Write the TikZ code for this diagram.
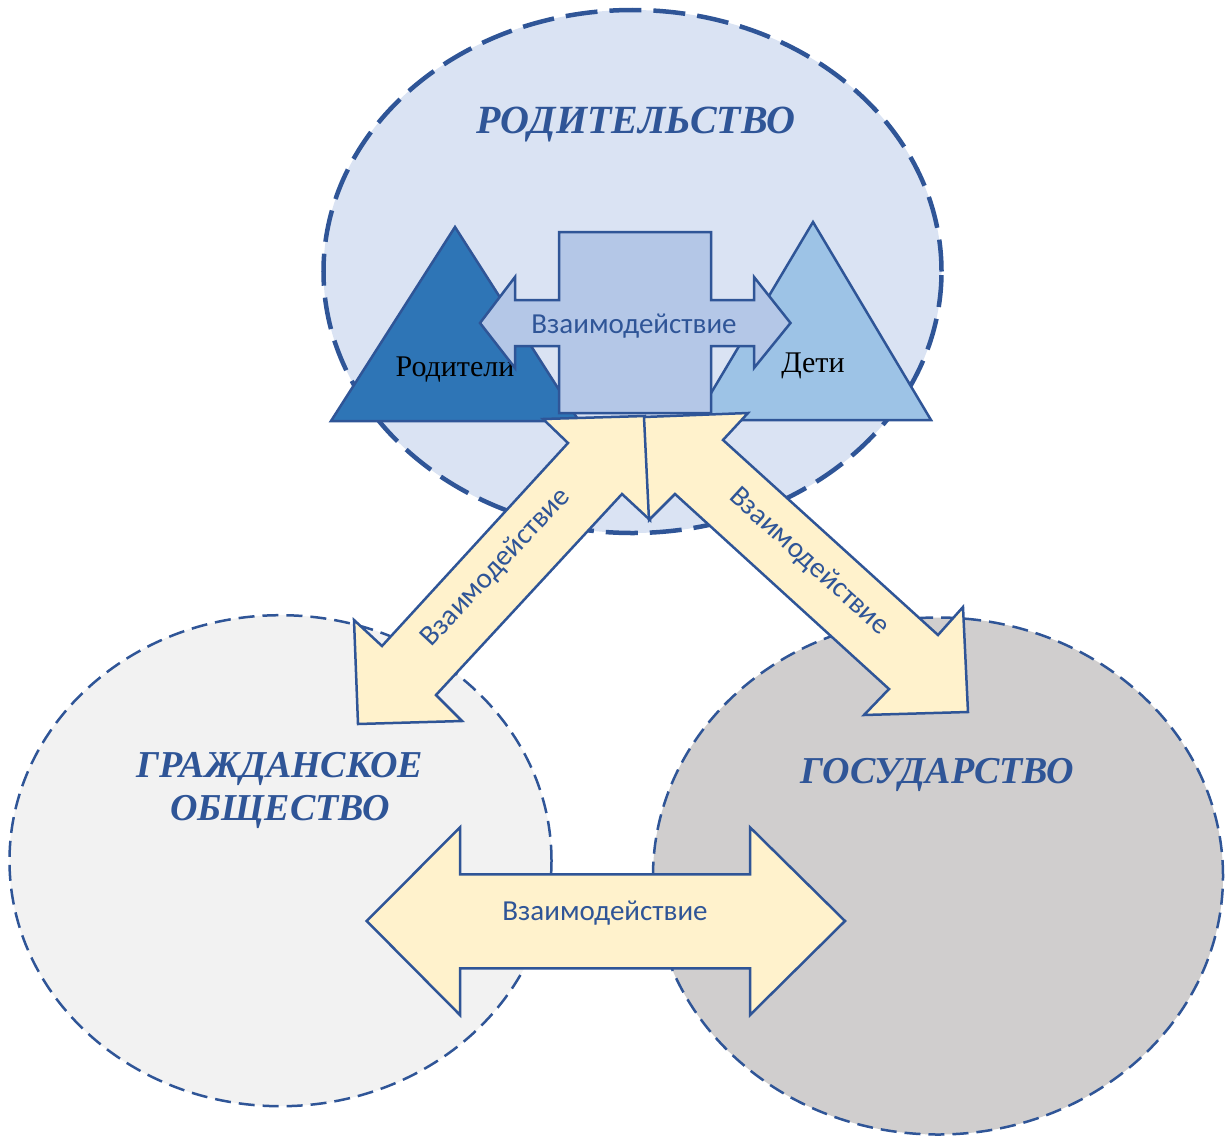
\documentclass[tikz,border=0pt]{standalone}
\usepackage{fontspec}
\setmainfont{Liberation Serif}
\newfontfamily\calib{Carlito}
\definecolor{dblue}{HTML}{2F5597}
\definecolor{topfill}{HTML}{DAE3F3}
\definecolor{blfill}{HTML}{F2F2F2}
\definecolor{brfill}{HTML}{D0CECE}
\definecolor{trione}{HTML}{2E75B6}
\definecolor{tritwo}{HTML}{9DC3E6}
\definecolor{crossfill}{HTML}{B4C7E7}
\definecolor{yel}{HTML}{FFF2CC}
\usetikzlibrary{shapes.geometric}
\tikzset{
  bigell/.style={ellipse, draw=dblue, inner sep=0pt, line width=4.5bp, dash pattern=on 32bp off 12bp},
  smallell/.style={ellipse, draw=dblue, inner sep=0pt, line width=2.5bp, dash pattern=on 16bp off 8bp},
  shapeline/.style={draw=dblue, line width=2.5bp, line join=miter},
  title/.style={text=dblue, font=\fontsize{38bp}{43bp}\selectfont\bfseries\itshape, inner sep=0pt, align=center},
  inter/.style={text=dblue, font=\calib\fontsize{29bp}{31bp}\selectfont, inner sep=0pt},
  who/.style={text=black, font=\fontsize{30bp}{34bp}\selectfont, inner sep=0pt}
}
\begin{document}
\begin{tikzpicture}[x=1bp,y=-1bp]
\useasboundingbox (0,0) rectangle (1227,1137);
% ellipses
\node[bigell, fill=topfill, minimum width=618bp, minimum height=523bp] (par) at (632.5,271.5) {};
\node[smallell, fill=blfill, minimum width=542bp, minimum height=491bp] (civ) at (280.5,860.7) {};
\node[smallell, fill=brfill, minimum width=570bp, minimum height=517bp] (gov) at (938,876) {};
% titles
\node[title, anchor=base, font=\fontsize{40bp}{43bp}\selectfont\bfseries\itshape] (tpar) at (636,133) {РОДИТЕЛЬСТВО};
\node[title] (tciv) at (280,790) {ГРАЖДАНСКОЕ\\ОБЩЕСТВО};
\node[title, anchor=base] (tgov) at (937,783) {ГОСУДАРСТВО};
% triangles
\draw[shapeline, fill=trione] (331,421) -- (455,227) -- (579,421) -- cycle;
\draw[shapeline, fill=tritwo] (695,420) -- (813,222) -- (931,420) -- cycle;
\node[who] (parents) at (455,370) {Родители};
\node[who] (kids) at (813,366) {Дети};
% cross arrow
\draw[shapeline, fill=crossfill] (559,232) -- (711,232) -- (711,300) -- (754,300) -- (754,277) -- (790.5,323) -- (754,368) -- (754,346) -- (711,346) -- (711,413) -- (559,413) -- (559,346) -- (515,346) -- (515,368) -- (480,323) -- (515,277) -- (515,300) -- (559,300) -- cycle;
\node[inter, anchor=base] (icross) at (634,333) {Взаимодействие};
% diagonal arrows
\draw[shapeline, fill=yel] (645,416) -- (650,520) -- (622,494) -- (436,695) -- (462,721) -- (358,724) -- (354,620) -- (382,646) -- (568,443) -- (543,419) -- cycle;
\draw[shapeline, fill=yel] (644,417) -- (748,413) -- (723,440) -- (938,635) -- (963,607) -- (968,712) -- (864,715) -- (889,689) -- (675,494) -- (649,520) -- cycle;
\node[inter, rotate=47] (ileft) at (496,567.5) {Взаимодействие};
\node[inter, rotate=-42.3] (iright) at (809,561.7) {Взаимодействие};
% bottom arrow
\draw[shapeline, fill=yel] (366.7,921) -- (460,827.3) -- (460,874.3) -- (750,874.3) -- (750,827.3) -- (845,921) -- (750,1015) -- (750,968.3) -- (460,968.3) -- (460,1015) -- cycle;
\node[inter, anchor=base] (ibottom) at (605,920) {Взаимодействие};
\end{tikzpicture}
\end{document}
